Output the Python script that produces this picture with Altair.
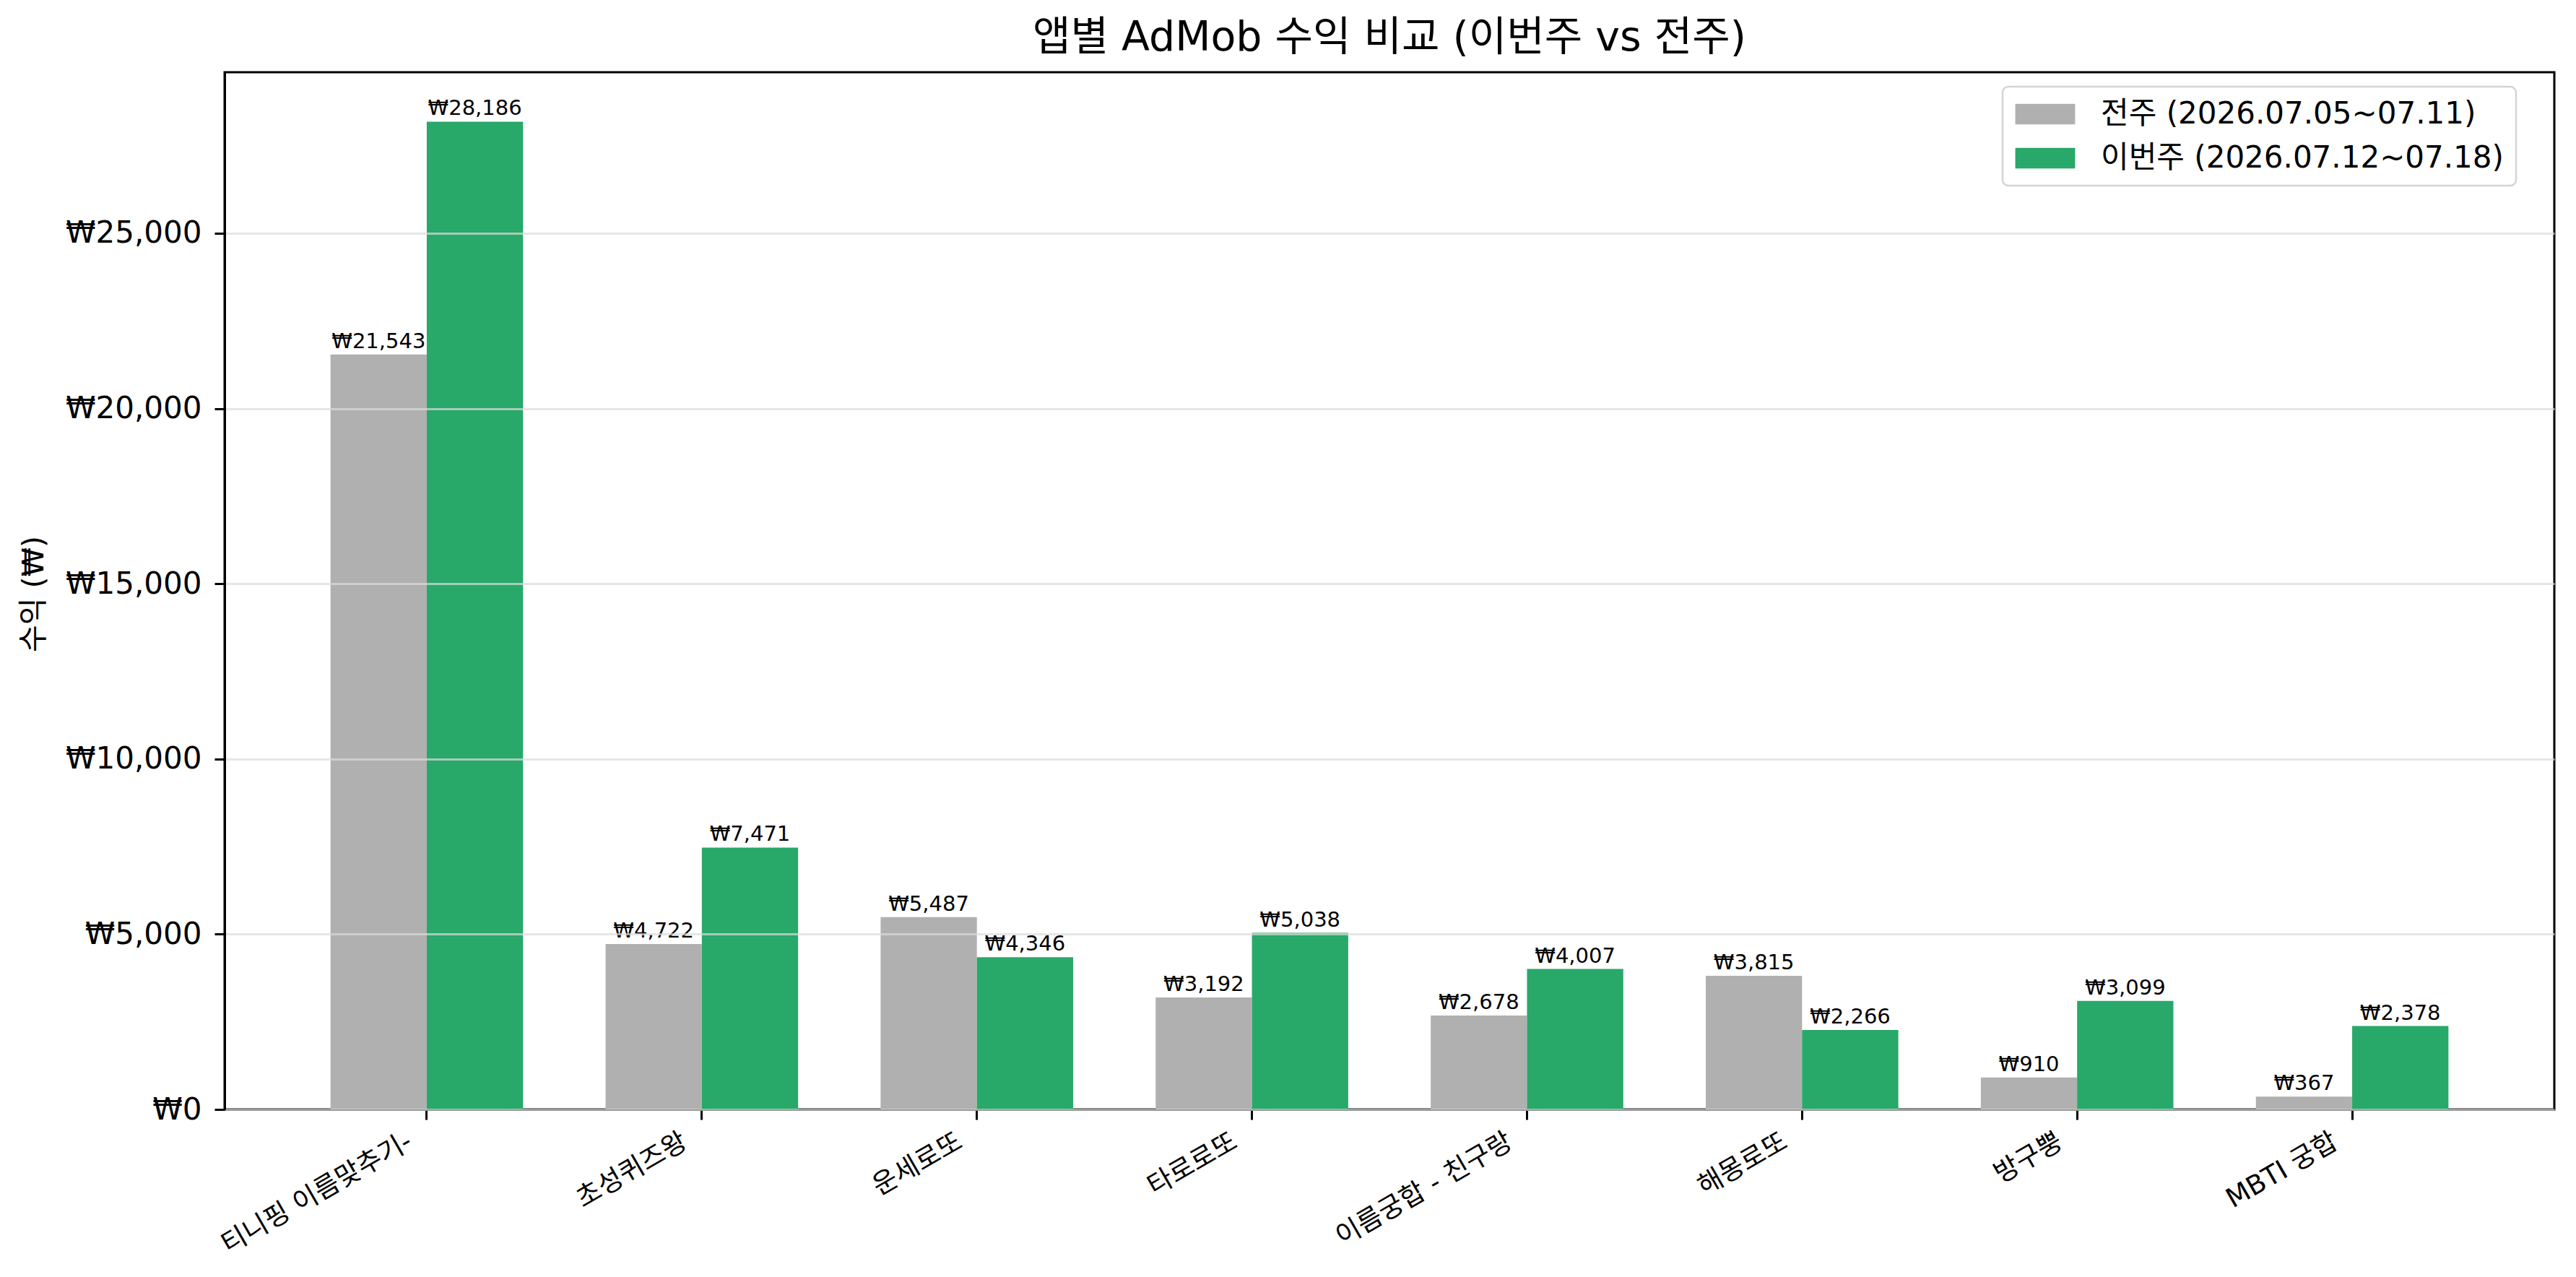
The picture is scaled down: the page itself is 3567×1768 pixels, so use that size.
import altair as alt
import pandas as pd

apps = ["티니핑 이름맞추기-", "초성퀴즈왕", "운세로또", "타로로또", "이름궁합 - 친구랑", "해몽로또", "방구뿡", "MBTI 궁합"]
prev_week = [21543, 4722, 5487, 3192, 2678, 3815, 910, 367]
this_week = [28186, 7471, 4346, 5038, 4007, 2266, 3099, 2378]
series = ["전주 (2026.07.05~07.11)", "이번주 (2026.07.12~07.18)"]
colors = ["#b0b0b0", "#28a869"]
y_ticks = [0, 5000, 10000, 15000, 20000, 25000]
title_text = "앱별 AdMob 수익 비교 (이번주 vs 전주)"
y_title = "수익 (₩)"

FONT = "DejaVu Sans, Noto Sans CJK KR"

rows = []
for a, p, t in zip(apps, prev_week, this_week):
    rows.append({"app": a, "series": series[0], "value": p})
    rows.append({"app": a, "series": series[1], "value": t})
df = pd.DataFrame(rows)
df["label"] = df["value"].map(lambda v: "₩{:,}".format(v))

ymax = max(prev_week + this_week) * 1.05

x_enc = alt.X("app:N", sort=apps, title=None,
              scale=alt.Scale(paddingInner=0.3, paddingOuter=0.385),
              axis=alt.Axis(labelAngle=330, labelAlign="right", labelBaseline="top",
                            labelFontSize=37, labelFont=FONT, labelColor="black",
                            labelPadding=12, labelOffset=-32, labelLimit=0,
                            tickSize=14, tickWidth=3, tickColor="black",
                            domain=True, domainColor="black", domainWidth=3,
                            grid=False))
xo_enc = alt.XOffset("series:N", sort=series, scale=alt.Scale(paddingInner=0, paddingOuter=0))
y_enc = alt.Y("value:Q", title=y_title,
              scale=alt.Scale(domain=[0, ymax], nice=False, zero=True),
              axis=alt.Axis(values=y_ticks, labelExpr="'₩' + format(datum.value, ',')",
                            labelFontSize=42, labelFont=FONT, labelColor="black",
                            labelPadding=18, labelLimit=0,
                            tickSize=14, tickWidth=3, tickColor="black",
                            domain=True, domainColor="black", domainWidth=3,
                            grid=True, gridColor="#dcdcdc", gridOpacity=0.7, gridWidth=3,
                            titleFontSize=41, titleFont=FONT, titleFontWeight="normal",
                            titleColor="black", titleX=-264, titleY=722,
                            titleAngle=270, titleAlign="center", titleBaseline="middle",
                            zindex=1))

color_enc = alt.Color("series:N", sort=series,
                      scale=alt.Scale(domain=series, range=colors),
                      legend=alt.Legend(title=None, orient="none", legendX=2462, legendY=20,
                                        direction="vertical",
                                        symbolType="M-2.02,-0.7L2.02,-0.7L2.02,0.7L-2.02,0.7Z",
                                        symbolSize=1681, symbolStrokeWidth=0, symbolOpacity=1,
                                        symbolOffset=21,
                                        labelFontSize=42, labelFont=FONT, labelColor="black",
                                        labelOffset=56, labelLimit=0, padding=17, rowPadding=19,
                                        fillColor="white", strokeColor="#d4d4d4",
                                        cornerRadius=8))

bars = alt.Chart(df).mark_bar(stroke=None).encode(
    x=x_enc, xOffset=xo_enc, y=y_enc, color=color_enc
)

labels = alt.Chart(df).mark_text(
    baseline="bottom", align="center", dy=-3, fontSize=29, font=FONT, color="black"
).encode(
    x=alt.X("app:N", sort=apps), xOffset=alt.XOffset("series:N", sort=series),
    y=alt.Y("value:Q"), text="label:N"
)

chart = alt.layer(bars, labels).properties(
    width=3226, height=1436,
    title=alt.TitleParams(title_text, fontSize=57, font=FONT, fontWeight="normal",
                          color="black", anchor="middle", offset=18),
    autosize=alt.AutoSizeParams(type="none"),
    padding={"left": 303, "top": 92, "right": 22, "bottom": 224},
    background="white",
).configure_view(stroke="black", strokeWidth=3).configure_legend(strokeWidth=2.5)

chart.save("out.html", embed_options={"renderer": "svg", "actions": False})
